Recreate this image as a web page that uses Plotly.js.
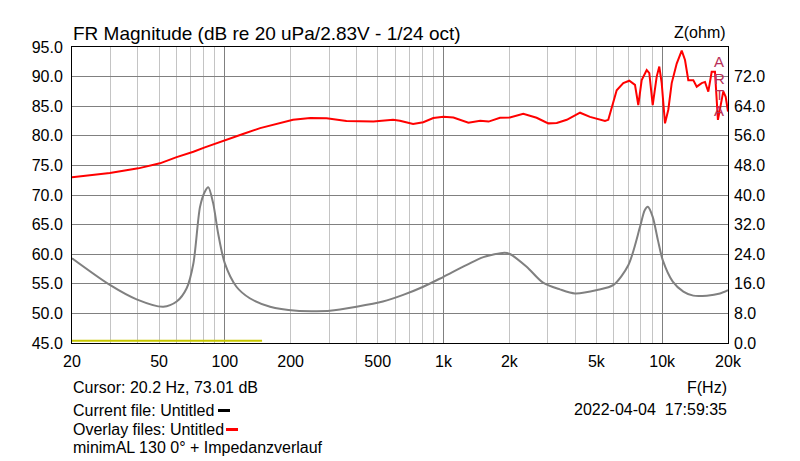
<!DOCTYPE html>
<html>
<head>
<meta charset="utf-8">
<script src="https://cdn.plot.ly/plotly-3.0.1.min.js"></script>
<style>html,body{margin:0;padding:0;background:#fff}#chart{width:800px;height:461px}</style>
</head>
<body>
<div id="chart"></div>
<script>
// SPL (red, left axis, dB)
const splFreq = [20, 29.8, 40.2, 50.5, 60.2, 71.8, 81, 100, 121, 145, 173, 205, 246, 292, 360, 478, 588, 632, 726, 808, 898, 1000, 1110, 1300, 1472, 1608, 1812, 2012, 2316, 2666, 3014, 3296, 3662, 4212, 4676, 5212, 5476, 5670, 5876, 6194, 6640, 7074, 7510, 7776, 8060, 8498, 8734, 9050, 9440, 9702, 9950, 10302, 10666, 11056, 11654, 12286, 12718, 13166, 13878, 14384, 15162, 15698, 16254, 16844, 17438, 17986, 19032, 19518, 20000];
const splDb = [73.0, 73.7, 74.5, 75.35, 76.4, 77.3, 78.05, 79.3, 80.3, 81.3, 82.0, 82.7, 83.0, 82.95, 82.5, 82.4, 82.7, 82.55, 82.0, 82.3, 83.0, 83.2, 83.1, 82.2, 82.55, 82.4, 83.05, 83.1, 83.7, 83.05, 82.1, 82.15, 82.7, 83.9, 83.2, 82.8, 82.5, 82.7, 84.9, 87.7, 88.9, 89.3, 88.6, 85.2, 89.4, 91.1, 90.6, 85.2, 90.0, 91.7, 88.9, 82.1, 84.4, 88.9, 92.2, 94.4, 92.8, 89.4, 89.4, 88.3, 88.9, 89.1, 87.45, 90.8, 90.8, 82.7, 87.5, 86.6, 84.1];

// Impedance (grey, right axis, ohm)
const zFreq = [20, 29.8, 39.5, 52.3, 60.2, 66.9, 71.8, 77, 81, 84, 88.4, 93.2, 100, 113, 130, 161, 213, 260, 302, 400, 528, 654, 808, 1000, 1278, 1522, 1900, 2012, 2400, 2852, 3404, 3990, 5040, 5992, 7008, 7920, 8320, 8600, 9050, 9560, 10060, 11180, 12500, 13878, 16000, 18382, 20000];
const zOhm = [22.9, 15.7, 11.8, 9.8, 11.2, 14.8, 21.5, 36.8, 40.9, 42.1, 37.8, 29.6, 21.5, 15.2, 12.1, 9.8, 8.7, 8.6, 8.7, 9.8, 11.2, 13.0, 15.2, 17.9, 21.1, 23.2, 24.4, 24.05, 20.6, 16.3, 14.5, 13.4, 14.3, 15.7, 21.1, 31.4, 35.9, 36.8, 34.1, 27.8, 22.4, 16.6, 13.9, 12.8, 12.8, 13.4, 14.3];

// Yellow reference line
const yelFreq = [20, 148];
const yelDb = [45.4, 45.4];

// Axis ticks
const xGridVals = [20,30,40,50,60,70,80,90,100,200,300,400,500,600,700,800,900,1000,2000,3000,4000,5000,6000,7000,8000,9000,10000,20000];
const xLabels = {20:"20",50:"50",100:"100",200:"200",500:"500",1000:"1k",2000:"2k",5000:"5k",10000:"10k",20000:"20k"};
const xMajor = [100, 1000, 10000];
const yTicks = [45,50,55,60,65,70,75,80,85,90,95];
const y2Ticks = [0,8,16,24,32,40,48,56,64,72];

const FONT = "Liberation Sans, Arial, sans-serif";
const L = 72, R = 728, T = 47, B = 343, W = 800, H = 461;
const px = v => (v - L) / (R - L);
const py = v => (B - v) / (B - T);

const traces = [
  {x: zFreq, y: zOhm, xaxis: 'x', yaxis: 'y2', type: 'scatter', mode: 'lines',
   line: {color: '#808080', width: 2, shape: 'spline', smoothing: 0.8}, hoverinfo: 'skip'},
  {x: splFreq, y: splDb, xaxis: 'x', yaxis: 'y', type: 'scatter', mode: 'lines',
   line: {color: '#ff0000', width: 2}, hoverinfo: 'skip'},
  {x: yelFreq, y: yelDb, xaxis: 'x2', yaxis: 'y', type: 'scatter', mode: 'lines',
   line: {color: '#c8c800', width: 2}, hoverinfo: 'skip'}
];

const xr = [Math.log10(20), Math.log10(20000)];
const ann = (text, x, y, xanchor, size, color) => ({
  text, xref: 'paper', yref: 'paper', x: px(x), y: py(y), xanchor, yanchor: 'middle',
  showarrow: false, font: {family: FONT, size: size || 16, color: color || '#000'}
});

const layout = {
  width: W, height: H,
  margin: {l: L, r: W - R, t: T, b: H - B, pad: 0},
  paper_bgcolor: '#fff', plot_bgcolor: '#fff',
  showlegend: false,
  title: {text: 'FR Magnitude (dB re 20 uPa/2.83V - 1/24 oct)', x: 73 / W, xanchor: 'left',
          y: 1 - 33 / H, yanchor: 'middle', font: {family: FONT, size: 19, color: '#000'}},
  xaxis: {type: 'log', range: xr, tickmode: 'array', tickvals: xGridVals,
          ticktext: xGridVals.map(v => xLabels[v] || ''), showgrid: true, gridcolor: '#c4c4c4', gridwidth: 1,
          ticks: '', showline: true, linecolor: '#000', linewidth: 1, mirror: true, zeroline: false,
          tickfont: {family: FONT, size: 16, color: '#000'}, ticklabelstandoff: 4},
  xaxis2: {type: 'log', range: xr, overlaying: 'x', anchor: 'y', tickmode: 'array', tickvals: xMajor,
           showticklabels: false, showgrid: true, gridcolor: '#808080', gridwidth: 1, ticks: '', showline: false, zeroline: false},
  yaxis: {range: [45, 95], tickmode: 'array', tickvals: yTicks, ticktext: yTicks.map(v => v.toFixed(1)),
          showgrid: true, gridcolor: '#808080', gridwidth: 1, ticks: '', showline: true, linecolor: '#000',
          mirror: true, zeroline: false, tickfont: {family: FONT, size: 16, color: '#000'}, ticklabelstandoff: 5},
  yaxis2: {range: [0, 80], overlaying: 'y', side: 'right', anchor: 'x', tickmode: 'array', tickvals: y2Ticks,
           ticktext: y2Ticks.map(v => v.toFixed(1)), showgrid: false, ticks: '', showline: false, zeroline: false,
           tickfont: {family: FONT, size: 16, color: '#000'}, ticklabelstandoff: 5},
  annotations: [
    ann('Z(ohm)', 728, 33, 'right', 16),
    ann('A', 719, 62, 'center', 15, '#b83058'),
    ann('R', 719, 78, 'center', 15, '#b83058'),
    ann('T', 719, 94, 'center', 15, '#b83058'),
    ann('A', 719, 110, 'center', 15, '#b83058'),
    ann('F(Hz)', 729, 387, 'right', 16),
    ann('2022-04-04&nbsp;&nbsp;17:59:35', 729, 409, 'right', 16),
    ann('Cursor: 20.2 Hz, 73.01 dB', 71, 387, 'left', 16),
    ann('Current file: Untitled', 71, 410, 'left', 16),
    ann('Overlay files: Untitled', 71, 429, 'left', 16),
    ann('minimAL 130 0° + Impedanzverlauf', 71, 447, 'left', 16)
  ],
  shapes: [
    {type: 'line', xref: 'paper', yref: 'paper', x0: px(218), x1: px(230), y0: py(410.5), y1: py(410.5), line: {color: '#000', width: 3}},
    {type: 'line', xref: 'paper', yref: 'paper', x0: px(226), x1: px(238), y0: py(429.5), y1: py(429.5), line: {color: '#ff0000', width: 3}}
  ]
};

Plotly.newPlot('chart', traces, layout, {staticPlot: true, displayModeBar: false});
</script>
</body>
</html>
